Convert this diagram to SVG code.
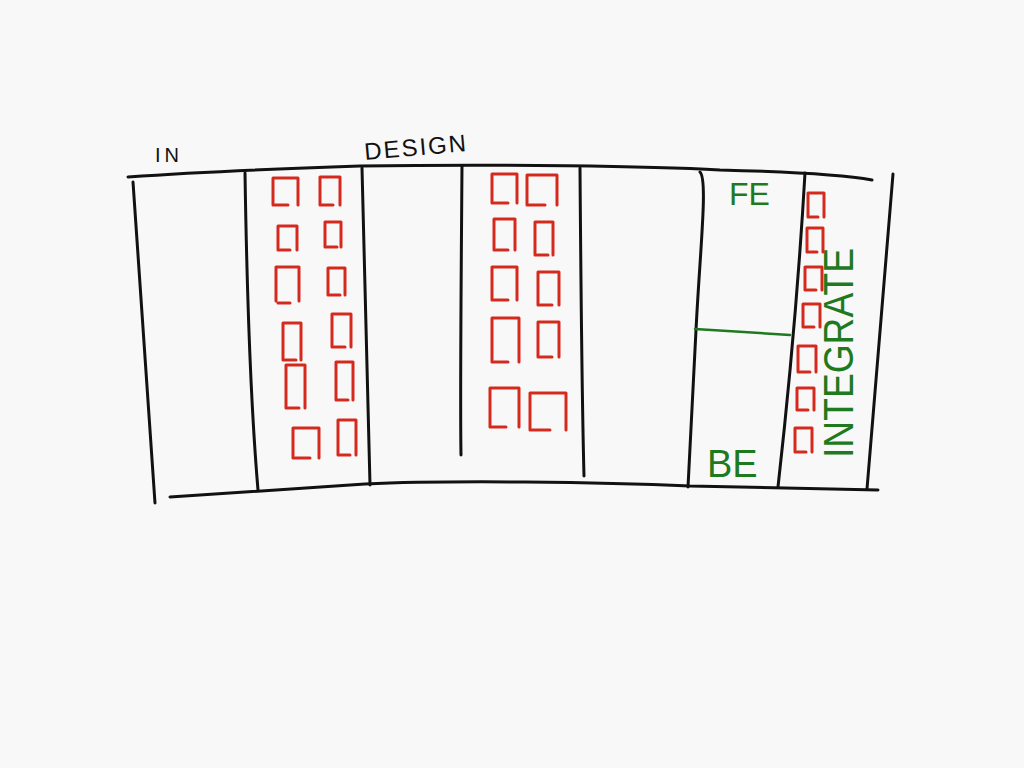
<svg xmlns="http://www.w3.org/2000/svg" width="1024" height="768" viewBox="0 0 1024 768">
<style>
.ln{fill:none;stroke:#111;stroke-width:3;stroke-linecap:round;stroke-linejoin:round}
.gl{fill:none;stroke:#1f7a1f;stroke-width:2.5;stroke-linecap:round}
.card{fill:none;stroke:#d42a1e;stroke-width:3;stroke-linecap:round;stroke-linejoin:round}
.lbl{font-family:"Liberation Sans",Arial,sans-serif;fill:#111}
.g{font-family:"Liberation Sans",Arial,sans-serif;fill:#1f7a1f}
</style>
<rect width="1024" height="768" fill="#f8f8f8"/>
<g id="board">
<path class="ln" d="M128,177 C200,172 300,168 360,166 C500,164 650,166 720,170 C800,172 850,176 872,180"/>
<path class="ln" d="M170,497 L365,484 C450,480 600,482 690,486 L878,490"/>
<path class="ln" d="M133,182 L155,503"/>
<path class="ln" d="M245,173 C247,300 252,420 258,490"/>
<path class="ln" d="M362,168 L370,485"/>
<path class="ln" d="M462,166 C461,300 460,400 461,455"/>
<path class="ln" d="M580,168 C581,300 582,400 584,476"/>
<path class="ln" d="M700,172 C708,180 700,250 696,330 L688,487"/>
<path class="ln" d="M805,173 C800,260 790,380 778,487"/>
<path class="ln" d="M893,174 L867,489"/>
<path class="gl" d="M695,329 L790,335"/>
</g>
<g id="labels">
<text class="lbl" x="155" y="162" font-size="20" letter-spacing="4">IN</text>
<text class="lbl" x="365" y="160" font-size="24" letter-spacing="2" transform="rotate(-5 365 160)">DESIGN</text>
<text class="g" x="729" y="205" font-size="32">FE</text>
<text class="g" x="707" y="477" font-size="38">BE</text>
<text class="g" transform="translate(853,458) rotate(-90)" font-size="42" textLength="210" lengthAdjust="spacingAndGlyphs">INTEGRATE</text>
</g>
<g id="cards-analysis">
<path class="card" d="M273,205 L273,178 L298,178 L298,205 M275,205 L288,205"/>
<path class="card" d="M320,205 L320,177 L340,177 L340,205 M322,205 L333,205"/>
<path class="card" d="M278,250 L278,226 L297,226 L297,250 M280,250 L290,250"/>
<path class="card" d="M325,247 L325,222 L341,222 L341,247 M327,247 L337,247"/>
<path class="card" d="M276,301 L276,267 L299,267 L299,301 M278,303 L290,303"/>
<path class="card" d="M328,295 L328,268 L345,268 L345,295 M330,295 L340,295"/>
<path class="card" d="M283,360 L283,323 L301,323 L301,360 M285,360 L296,360"/>
<path class="card" d="M332,347 L332,314 L351,314 L351,347 M334,347 L345,347"/>
<path class="card" d="M286,408 L286,365 L305,365 L305,408 M288,408 L299,408"/>
<path class="card" d="M336,400 L336,362 L353,362 L353,400 M338,400 L348,400"/>
<path class="card" d="M293,458 L293,428 L319,428 L319,458 M295,458 L310,458"/>
<path class="card" d="M338,455 L338,420 L356,420 L356,455 M340,455 L350,455"/>
</g>
<g id="cards-dev">
<path class="card" d="M492,203 L492,174 L517,174 L517,203 M494,203 L508,203"/>
<path class="card" d="M527,205 L527,175 L557,175 L557,205 M529,205 L545,205"/>
<path class="card" d="M494,250 L494,219 L515,219 L515,250 M496,250 L508,250"/>
<path class="card" d="M535,255 L535,222 L553,222 L553,255 M537,255 L548,255"/>
<path class="card" d="M492,300 L492,267 L517,267 L517,300 M494,300 L508,300"/>
<path class="card" d="M538,305 L538,272 L559,272 L559,305 M540,305 L552,305"/>
<path class="card" d="M492,362 L492,318 L519,318 L519,362 M494,362 L508,362"/>
<path class="card" d="M538,357 L538,322 L559,322 L559,357 M540,357 L552,357"/>
<path class="card" d="M490,427 L490,388 L519,388 L519,427 M492,427 L506,427"/>
<path class="card" d="M530,430 L530,393 L566,393 L566,430 M532,430 L550,430"/>
</g>
<g id="cards-integrate">
<path class="card" d="M808,217 L808,193 L824,193 L824,217 M810,217 L818,217"/>
<path class="card" d="M807,252 L807,228 L823,228 L823,252 M809,252 L817,252"/>
<path class="card" d="M805,290 L805,267 L822,267 L822,290 M807,290 L816,290"/>
<path class="card" d="M803,327 L803,304 L820,304 L820,327 M805,327 L814,327"/>
<path class="card" d="M798,372 L798,346 L816,346 L816,372 M800,372 L810,372"/>
<path class="card" d="M797,410 L797,388 L814,388 L814,410 M799,410 L808,410"/>
<path class="card" d="M795,452 L795,428 L812,428 L812,452 M797,452 L806,452"/>
</g>
</svg>
